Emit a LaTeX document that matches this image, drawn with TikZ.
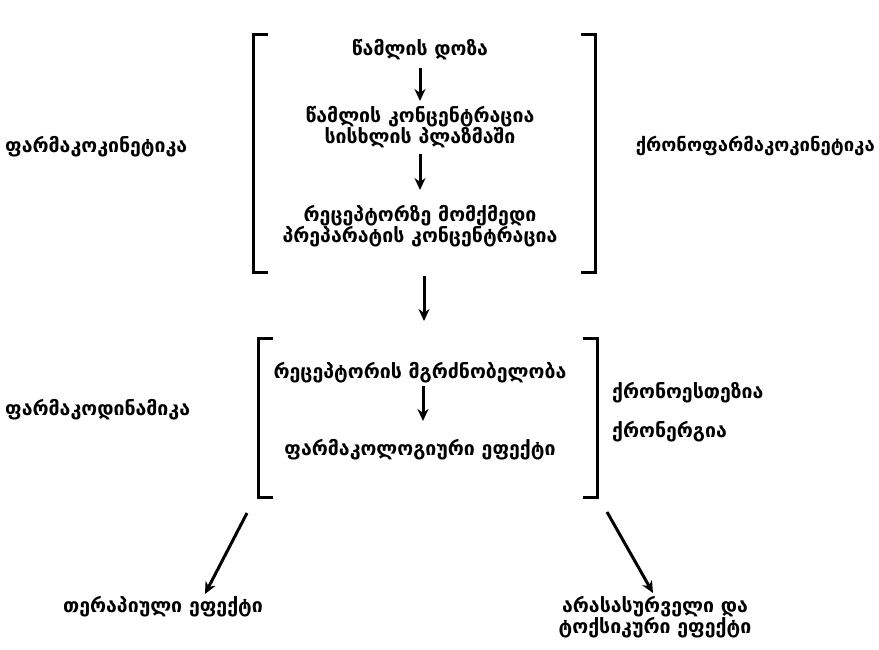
\documentclass[tikz,border=0pt]{standalone}
\usepackage{fontspec}
\setmainfont{DejaVu Sans}
\usetikzlibrary{arrows.meta}
\begin{document}
\begin{tikzpicture}[x=1pt,y=-1pt,
  lbl/.style={font=\bfseries\fontsize{19.5}{21}\selectfont, inner sep=0pt, align=center},
  brk/.style={line width=3pt},
  arr/.style={line width=3pt,-{Stealth[length=12pt,width=11pt]}}]
\useasboundingbox (0,0) rectangle (879,650);
% top bracket
\draw[brk] (268,35) -- (253,35) -- (253,272) -- (268,272);
\draw[brk] (581,35) -- (595,35) -- (595,272) -- (581,272);
% lower bracket
\draw[brk] (273,338) -- (258,338) -- (258,497) -- (273,497);
\draw[brk] (583,338) -- (597,338) -- (597,497) -- (583,497);

\node[lbl] (dose) at (420,50) {წამლის დოზა};
\node[lbl] (plasma) at (420,127) {წამლის კონცენტრაცია\\სისხლის პლაზმაში};
\node[lbl] (recconc) at (420,226) {რეცეპტორზე მომქმედი\\პრეპარატის კონცენტრაცია};
\node[lbl] (sens) at (420,373) {რეცეპტორის მგრძნობელობა};
\node[lbl] (effect) at (420,450) {ფარმაკოლოგიური ეფექტი};

\node[lbl, anchor=west] (pk) at (5,147) {ფარმაკოკინეტიკა};
\node[lbl, anchor=east, font=\bfseries\fontsize{18.5}{21}\selectfont] (cpk) at (875,146) {ქრონოფარმაკოკინეტიკა};
\node[lbl, anchor=west] (pd) at (5,410) {ფარმაკოდინამიკა};
\node[lbl, anchor=west] (ces) at (612,393) {ქრონოესთეზია};
\node[lbl, anchor=west] (cer) at (612,432) {ქრონერგია};

\node[lbl] (ther) at (163,607) {თერაპიული ეფექტი};
\node[lbl] (tox) at (655,617) {არასასურველი და\\ტოქსიკური ეფექტი};

\coordinate (a1s) at (420,68);
\coordinate (a1e) at (420,101);
\coordinate (a2s) at (420,154);
\coordinate (a2e) at (420,190);
\coordinate (a3s) at (424,276);
\coordinate (a3e) at (424,321);
\coordinate (a4s) at (423,386);
\coordinate (a4e) at (423,421);
\coordinate (a5s) at (247,513);
\coordinate (a5e) at (205,594);
\coordinate (a6s) at (607,512);
\coordinate (a6e) at (653,593);
\draw[arr] (a1s) -- (a1e);
\draw[arr] (a2s) -- (a2e);
\draw[arr] (a3s) -- (a3e);
\draw[arr] (a4s) -- (a4e);
\draw[arr] (a5s) -- (a5e);
\draw[arr] (a6s) -- (a6e);
\end{tikzpicture}
\end{document}
